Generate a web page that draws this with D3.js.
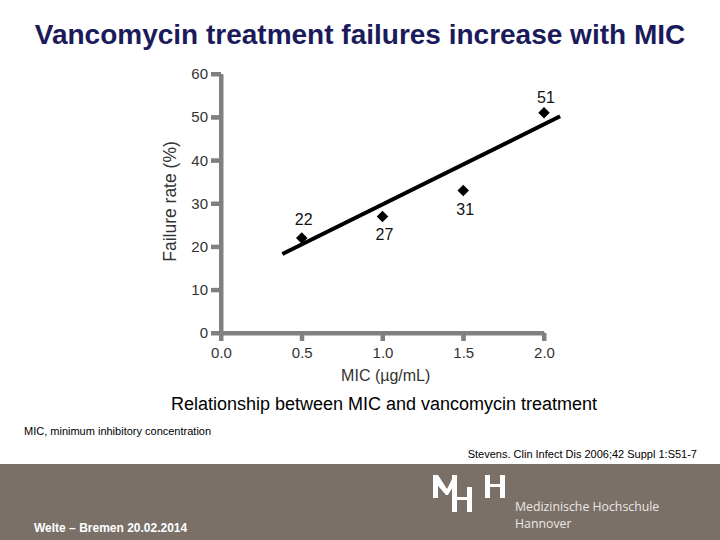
<!DOCTYPE html>
<html>
<head>
<meta charset="utf-8">
<script src="https://cdn.jsdelivr.net/npm/d3@7"></script>
<style>
html,body{margin:0;padding:0;background:#fff;}
svg{display:block;}
</style>
</head>
<body>
<svg id="chart" width="720" height="540"></svg>
<script>
// ---- data ----
const micValues = [0.5, 1.0, 1.5, 2.0];
const failureRates = [22, 27, 33, 51];        // plotted positions
const pointLabels = ["22", "27", "31", "51"];  // printed labels
const trendX = [0.38, 2.1];
const trendY = [18.3, 50.2];
const xTicks = [0, 0.5, 1.0, 1.5, 2.0];
const yTicks = [0, 10, 20, 30, 40, 50, 60];

const titleText = "Vancomycin treatment failures increase with MIC";
const captionText = "Relationship between MIC and vancomycin treatment";
const footnoteText = "MIC, minimum inhibitory concentration";
const referenceText = "Stevens. Clin Infect Dis 2006;42 Suppl 1:S51-7";
const footerLeftText = "Welte \u2013 Bremen 20.02.2014";
const logoLines = ["Medizinische Hochschule", "Hannover"];

const svg = d3.select("#chart");
const fontFam = "Liberation Sans, Arial, sans-serif";
const axisColor = "#808080";
const yTickLen = 10, xTickLen = 8;

const x = d3.scaleLinear().domain([0, 2]).range([221, 544]);
const y = d3.scaleLinear().domain([0, 60]).range([333, 74]);

// title
svg.append("text").attr("x", 360).attr("y", 44).attr("text-anchor", "middle")
  .attr("font-family", fontFam).attr("font-weight", "bold").attr("font-size", 28)
  .attr("fill", "#1b1b5c").text(titleText);

// y axis
const yAxis = svg.append("g").attr("transform", `translate(${x(0)},0)`)
  .call(d3.axisLeft(y).tickValues(yTicks).tickSize(yTickLen).tickSizeOuter(0).tickPadding(3));
yAxis.select(".domain").style("stroke", axisColor).style("stroke-width", "4px");
yAxis.selectAll(".tick line").style("stroke", axisColor).style("stroke-width", "4px");
yAxis.selectAll(".tick text").style("font-family", fontFam).style("font-size", "15px").style("fill", "#333");

// x axis
const xAxis = svg.append("g").attr("transform", `translate(0,${y(0)})`)
  .call(d3.axisBottom(x).tickValues(xTicks).tickSize(xTickLen).tickSizeOuter(0).tickPadding(6).tickFormat(d3.format(".1f")));
xAxis.select(".domain").style("stroke", axisColor).style("stroke-width", "4px");
xAxis.selectAll(".tick line").style("stroke", axisColor).style("stroke-width", "4px");
xAxis.selectAll(".tick text").style("font-family", fontFam).style("font-size", "15px").style("fill", "#333");

// thick axis strokes derived from the same scales
const axStroke = svg.append("g").attr("stroke", axisColor).attr("stroke-width", 4);
axStroke.append("line").attr("x1", x(0)).attr("x2", x(0)).attr("y1", y.range()[0]).attr("y2", y.range()[1]);
axStroke.append("line").attr("x1", x.range()[0]).attr("x2", x.range()[1]).attr("y1", y(0)).attr("y2", y(0));
axStroke.selectAll("line.yt").data(yTicks).enter().append("line").attr("class", "yt")
  .attr("x1", x(0) - yTickLen).attr("x2", x(0)).attr("y1", d => y(d)).attr("y2", d => y(d));
axStroke.selectAll("line.xt").data(xTicks).enter().append("line").attr("class", "xt")
  .attr("x1", d => x(d)).attr("x2", d => x(d)).attr("y1", y(0)).attr("y2", y(0) + xTickLen);

// axis titles
svg.append("text").attr("transform", `translate(176,${y(30) - 2}) rotate(-90)`)
  .attr("text-anchor", "middle").attr("font-family", fontFam).attr("font-size", 17.5)
  .attr("fill", "#333").text("Failure rate (%)");
svg.append("text").attr("x", x(1.02)).attr("y", 381).attr("text-anchor", "middle")
  .attr("font-family", fontFam).attr("font-size", 16).attr("fill", "#333").text("MIC (\u00b5g/mL)");

// trend line
svg.append("line")
  .attr("x1", x(trendX[0])).attr("y1", y(trendY[0]))
  .attr("x2", x(trendX[1])).attr("y2", y(trendY[1]))
  .attr("stroke", "#000").attr("stroke-width", 4);

// points
const pts = micValues.map((m, i) => ({m, v: failureRates[i], label: pointLabels[i]}));
svg.selectAll("path.pt").data(pts).enter().append("path")
  .attr("class", "pt")
  .attr("d", d3.symbol().type(d3.symbolDiamond2).size(85))
  .attr("transform", d => `translate(${x(d.m)},${y(d.v)})`)
  .attr("fill", "#000");

const labelOffsets = [-13, 24, 24, -10];
svg.selectAll("text.pl").data(pts).enter().append("text")
  .attr("class", "pl")
  .attr("x", d => x(d.m) + 2)
  .attr("y", (d, i) => y(d.v) + labelOffsets[i])
  .attr("text-anchor", "middle").attr("font-family", fontFam).attr("font-size", 16)
  .attr("fill", "#111").text(d => d.label);

// caption
svg.append("text").attr("x", 384).attr("y", 410).attr("text-anchor", "middle")
  .attr("font-family", fontFam).attr("font-size", 18).attr("fill", "#000").text(captionText);
svg.append("text").attr("x", 24).attr("y", 435)
  .attr("font-family", fontFam).attr("font-size", 11).attr("fill", "#000").text(footnoteText);
svg.append("text").attr("x", 697).attr("y", 458).attr("text-anchor", "end")
  .attr("font-family", fontFam).attr("font-size", 11).attr("fill", "#000").text(referenceText);

// footer band
svg.append("rect").attr("x", 0).attr("y", 464).attr("width", 720).attr("height", 76).attr("fill", "#7a7068");
svg.append("text").attr("x", 34).attr("y", 532)
  .attr("font-family", "Liberation Sans Narrow, Arial Narrow, sans-serif").attr("font-weight", "bold")
  .attr("font-size", 12).attr("fill", "#fff").text(footerLeftText);

// MHH logo
const logo = svg.append("g").attr("fill", "#fff");
const bars = [
  [433, 475, 5, 23], [452, 475, 5, 37], [467, 487, 5, 25], [452, 497, 20, 3],
  [485, 475, 5, 23], [500, 475, 5, 23], [485, 484, 20, 3]
];
logo.selectAll("rect").data(bars).enter().append("rect")
  .attr("x", d => d[0]).attr("y", d => d[1]).attr("width", d => d[2]).attr("height", d => d[3]);
logo.append("path").attr("d", "M433,475 L438,475 L447,489 L454,475 L457,475 L457,480 L448,495 L446,495 L433,480 Z");
svg.selectAll("text.logo").data(logoLines).enter().append("text")
  .attr("class", "logo").attr("x", 515).attr("y", (d, i) => 511 + i * 17)
  .attr("font-family", "Open Sans, sans-serif").attr("font-size", 12.3).attr("fill", "#ebe7e3").text(d => d);
</script>
</body>
</html>
